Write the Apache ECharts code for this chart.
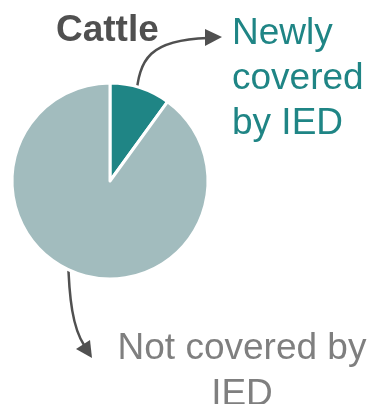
<!DOCTYPE html>
<html><head><meta charset="utf-8">
<script src="https://cdn.jsdelivr.net/npm/echarts@6/dist/echarts.min.js"></script>
<style>html,body{margin:0;padding:0;background:#fff}#c{width:370px;height:404px}</style>
</head><body><div id="c"></div>
<script>
var titleText = 'Cattle';
var categories = ['Newly covered by IED', 'Not covered by IED'];
var values = [10, 90];
var colors = ['#1f8585', '#a2bcbe'];
var labelNew = 'Newly\ncovered\nby IED';
var labelNot = 'Not covered by\nIED';

var chart = echarts.init(document.getElementById('c'));
chart.setOption({
  animation: false,
  backgroundColor: '#ffffff',
  series: [{
    type: 'pie',
    center: [110, 181],
    radius: 98,
    startAngle: 90,
    clockwise: true,
    label: { show: false },
    labelLine: { show: false },
    itemStyle: { borderColor: '#ffffff', borderWidth: 3 },
    data: categories.map(function (c, i) {
      return { name: c, value: values[i], itemStyle: { color: colors[i] } };
    })
  }],
  graphic: [
    { type: 'text', left: 56, top: 12, style: { text: titleText, font: 'bold 37px "Liberation Sans", Arial, sans-serif', fill: '#505050' } },
    { type: 'text', left: 232, top: 11, style: { text: labelNew, font: '37px "Liberation Sans", Arial, sans-serif', fill: '#1f8585', lineHeight: 45 } },
    { type: 'text', x: 242, y: 326, style: { text: labelNot, font: '37px "Liberation Sans", Arial, sans-serif', fill: '#7f7f7f', lineHeight: 46, align: 'center', verticalAlign: 'top' } },
    { type: 'bezierCurve', shape: { x1: 136, y1: 98, cpx1: 139, cpy1: 58, cpx2: 150, cpy2: 40, x2: 208, y2: 38 }, style: { stroke: '#505050', lineWidth: 2.5, fill: null } },
    { type: 'polygon', shape: { points: [[222, 37], [205, 29], [205, 46]] }, style: { fill: '#505050' } },
    { type: 'bezierCurve', shape: { x1: 68, y1: 256, cpx1: 69, cpy1: 300, cpx2: 73, cpy2: 328, x2: 84, y2: 345 }, style: { stroke: '#505050', lineWidth: 2.5, fill: null } },
    { type: 'polygon', shape: { points: [[92, 358], [76, 349], [90, 340]] }, style: { fill: '#505050' } }
  ]
});
</script></body></html>
